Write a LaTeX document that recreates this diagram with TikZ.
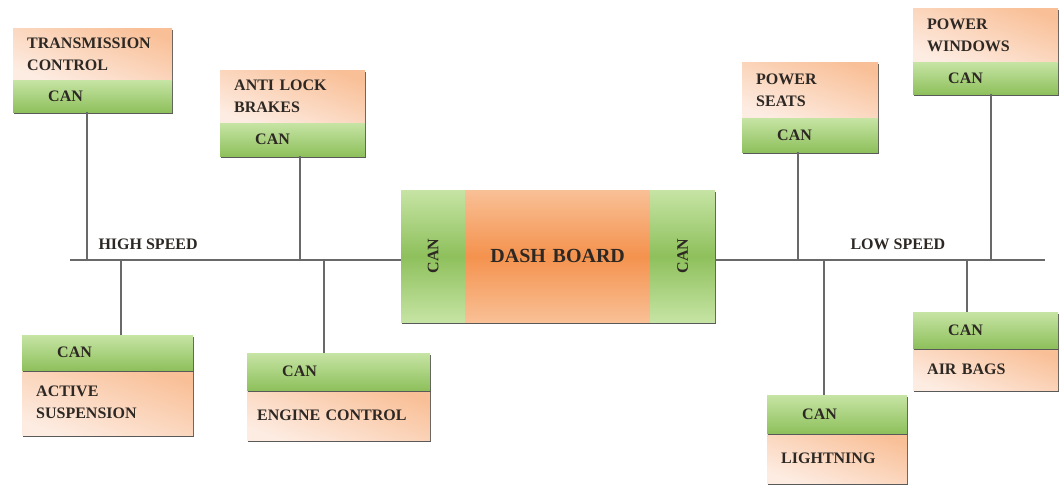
\documentclass[tikz,border=0pt]{standalone}
\usepackage{fontspec}
\setmainfont{Liberation Serif}
\usepackage{graphicx}
\usepackage{tikz}
\usetikzlibrary{shadows}

\definecolor{peach}{RGB}{249,192,152}
\definecolor{peachlt}{RGB}{253,236,226}
\definecolor{cangreen}{RGB}{142,192,92}
\definecolor{canlight}{RGB}{198,228,164}
\definecolor{dashorange}{RGB}{244,146,78}
\definecolor{dashlight}{RGB}{249,192,150}
\definecolor{inkgray}{RGB}{45,40,35}
\definecolor{wiregray}{RGB}{105,105,105}

\tikzset{
  unit/.style={anchor=north west, inner ysep=0pt, align=left, text=inkgray,
    font=\fontsize{16}{22}\selectfont\bfseries,
    drop shadow={shadow xshift=1pt, shadow yshift=-2pt, fill=black!65, opacity=1}},
  lbl/.style={unit, top color=peach, bottom color=peachlt, shading angle=-20, inner xsep=14pt},
  can/.style={unit, top color=canlight, bottom color=cangreen, inner xsep=35pt},
  dashcan/.style={unit, inner xsep=0pt, align=center, minimum height=132pt,
    top color=canlight, bottom color=canlight, middle color=cangreen},
  wire/.style={draw=wiregray, line width=1.3pt},
  speed/.style={anchor=west, text=inkgray, font=\fontsize{16}{18}\selectfont\bfseries},
}

\begin{document}
\begin{tikzpicture}[x=1pt, y=-1pt]
  \fill[white] (0,0) rectangle (1060,488);
  \useasboundingbox (0,0) rectangle (1060,488);

  % Upper units (name on top, CAN below)
  \node[lbl, text width=131pt, minimum height=52pt] (tc) at (13,28) {TRANSMISSION\\CONTROL};
  \node[can, text width=89pt, minimum height=32pt] (tc-can) at (13,80) {CAN};
  \node[lbl, text width=117pt, minimum height=53pt] (abs) at (220,70) {ANTI LOCK\\BRAKES};
  \node[can, text width=75pt, minimum height=33pt] (abs-can) at (220,123) {CAN};
  \node[lbl, text width=108pt, minimum height=56pt] (ps) at (742,62) {POWER\\SEATS};
  \node[can, text width=66pt, minimum height=34pt] (ps-can) at (742,118) {CAN};
  \node[lbl, text width=117pt, minimum height=54pt] (pw) at (913,8) {POWER\\WINDOWS};
  \node[can, text width=75pt, minimum height=32pt] (pw-can) at (913,62) {CAN};

  % Lower units (CAN on top, name below)
  \node[lbl, text width=143pt, minimum height=65pt] (as) at (22,370) {ACTIVE\\SUSPENSION};
  \node[can, text width=101pt, minimum height=35pt] (as-can) at (22,335) {CAN};
  \node[lbl, inner xsep=10pt, text width=163pt, minimum height=50pt] (ec) at (247,390) {ENGINE CONTROL};
  \node[can, text width=113pt, minimum height=37pt] (ec-can) at (247,353) {CAN};
  \node[lbl, text width=112pt, minimum height=50pt] (lt) at (767,433) {LIGHTNING};
  \node[can, text width=70pt, minimum height=38pt] (lt-can) at (767,395) {CAN};
  \node[lbl, text width=117pt, minimum height=42pt] (ab) at (913,348) {AIR BAGS};
  \node[can, text width=75pt, minimum height=36pt] (ab-can) at (913,312) {CAN};

  % Dash board
  \node[dashcan, text width=64pt] (dcanl) at (401,190) {\rotatebox{90}{CAN}};
  \node[unit, inner xsep=0pt, align=center, text width=185pt, minimum height=132pt,
        font=\fontsize{20}{24}\selectfont\bfseries,
        top color=dashlight, bottom color=dashlight, middle color=dashorange] (dash) at (465,190) {DASH BOARD};
  \node[dashcan, text width=65pt] (dcanr) at (650,190) {\rotatebox{90}{CAN}};

  % Bus lines
  \coordinate (hsL) at (70,260);
  \coordinate (lsR) at (1045,260);
  \draw[wire] (hsL) -- (hsL -| dcanl.west);
  \draw[wire] (dcanr.east |- lsR) -- (lsR);
  \node[speed] (hs) at (95,244) {HIGH SPEED};
  \node[speed] (ls) at (847,244) {LOW SPEED};

  % Stubs to the bus
  \foreach \n/\x in {tc/87, abs/300, ps/798, pw/991}
    {\coordinate (t\n) at (\x,260);
     \draw[wire] (\n-can.south -| t\n) -- (t\n);}
  \foreach \n/\x in {as/121, ec/324, lt/824, ab/967}
    {\coordinate (t\n) at (\x,260);
     \draw[wire] (t\n) -- (t\n |- \n-can.north);}
\end{tikzpicture}
\end{document}
